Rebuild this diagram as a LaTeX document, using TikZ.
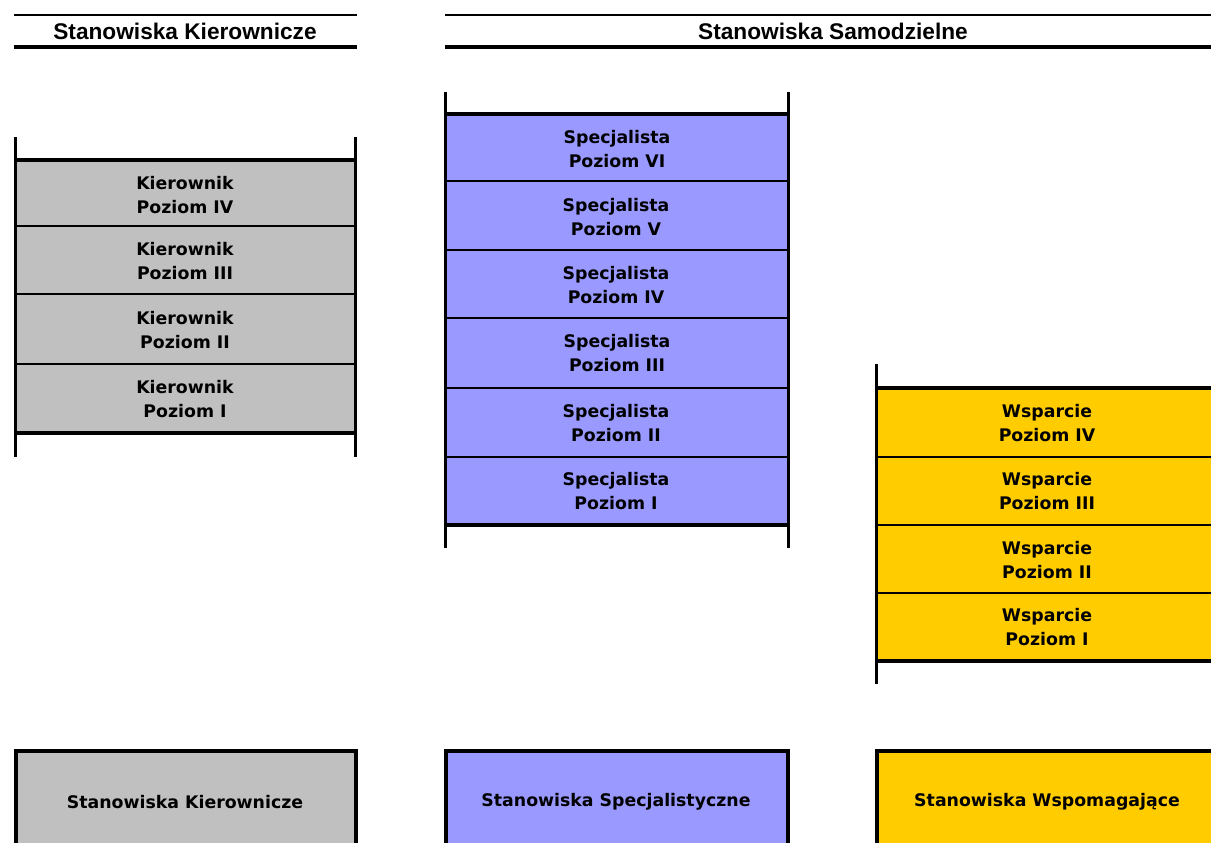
\documentclass[tikz,border=0pt]{standalone}
\usepackage{fontspec}
\setmainfont{DejaVu Sans}
\newfontfamily\headfont{Liberation Sans}
\definecolor{kiergray}{HTML}{C0C0C0}
\definecolor{specblue}{HTML}{9999FF}
\definecolor{wspyellow}{HTML}{FFCC00}

\begin{document}
\begin{tikzpicture}[x=0.75pt,y=-0.75pt,
  cell/.style={draw=black,line width=1.6pt},
  rim/.style={line width=3pt},
  post/.style={line width=2.2pt},
  lbl/.style={font=\fontsize{13}{18}\selectfont\bfseries,align=center,inner sep=0pt},
  head/.style={font=\headfont\fontsize{17}{20}\selectfont\bfseries,inner sep=0pt}]
  \clip (0,0) rectangle (1211,843);

  % headers
  \draw [line width=1.3pt] (14,15) -- (357,15);
  \draw [line width=2.7pt] (14,47) -- (357,47);
  \node [head] (hKier) at (185,31) {Stanowiska Kierownicze};
  \draw [line width=1.3pt] (445,15) -- (1211,15);
  \draw [line width=2.7pt] (445,47) -- (1211,47);
  \node [head] (hSam) at (833,31) {Stanowiska Samodzielne};

  % kierownik column
  \filldraw [cell, fill=kiergray] (15.5,160) rectangle (355.5,226);
  \filldraw [cell, fill=kiergray] (15.5,226) rectangle (355.5,294);
  \filldraw [cell, fill=kiergray] (15.5,294) rectangle (355.5,364);
  \filldraw [cell, fill=kiergray] (15.5,364) rectangle (355.5,433);
  \draw [rim] (15.5,160) -- (355.5,160);
  \draw [rim] (15.5,433) -- (355.5,433);
  \node [lbl] (k4) at (185,195) {Kierownik\\Poziom IV};
  \node [lbl] (k3) at (185,261) {Kierownik\\Poziom III};
  \node [lbl] (k2) at (185,330) {Kierownik\\Poziom II};
  \node [lbl] (k1) at (185,399) {Kierownik\\Poziom I};
  \coordinate (kLT) at (15.5,137);
  \coordinate (kLB) at (15.5,457);
  \coordinate (kRT) at (355.5,137);
  \coordinate (kRB) at (355.5,457);
  \draw [post] (kLT) -- (kLB);
  \draw [post] (kRT) -- (kRB);

  % specjalista column
  \filldraw [cell, fill=specblue] (445.5,114) rectangle (788.5,181);
  \filldraw [cell, fill=specblue] (445.5,181) rectangle (788.5,250);
  \filldraw [cell, fill=specblue] (445.5,250) rectangle (788.5,318);
  \filldraw [cell, fill=specblue] (445.5,318) rectangle (788.5,388);
  \filldraw [cell, fill=specblue] (445.5,388) rectangle (788.5,457);
  \filldraw [cell, fill=specblue] (445.5,457) rectangle (788.5,525);
  \draw [rim] (445.5,114) -- (788.5,114);
  \draw [rim] (445.5,525) -- (788.5,525);
  \node [lbl] (s6) at (617,149) {Specjalista\\Poziom VI};
  \node [lbl] (s5) at (616,217) {Specjalista\\Poziom V};
  \node [lbl] (s4) at (616,285) {Specjalista\\Poziom IV};
  \node [lbl] (s3) at (617,353) {Specjalista\\Poziom III};
  \node [lbl] (s2) at (616,423) {Specjalista\\Poziom II};
  \node [lbl] (s1) at (616,491) {Specjalista\\Poziom I};
  \coordinate (sLT) at (445.5,92);
  \coordinate (sLB) at (445.5,548);
  \coordinate (sRT) at (788.5,92);
  \coordinate (sRB) at (788.5,548);
  \draw [post] (sLT) -- (sLB);
  \draw [post] (sRT) -- (sRB);

  % wsparcie column
  \filldraw [cell, fill=wspyellow] (876.5,388) rectangle (1230,457);
  \filldraw [cell, fill=wspyellow] (876.5,457) rectangle (1230,525);
  \filldraw [cell, fill=wspyellow] (876.5,525) rectangle (1230,593);
  \filldraw [cell, fill=wspyellow] (876.5,593) rectangle (1230,661);
  \draw [rim] (876.5,388) -- (1230,388);
  \draw [rim] (876.5,661) -- (1230,661);
  \node [lbl] (w4) at (1047,423) {Wsparcie\\Poziom IV};
  \node [lbl] (w3) at (1047,491) {Wsparcie\\Poziom III};
  \node [lbl] (w2) at (1047,560) {Wsparcie\\Poziom II};
  \node [lbl] (w1) at (1047,627) {Wsparcie\\Poziom I};
  \coordinate (wLT) at (876.5,364);
  \coordinate (wLB) at (876.5,684);
  \draw [post] (wLT) -- (wLB);

  % legend boxes
  \filldraw [rim, fill=kiergray] (15.5,751) rectangle (356,880);
  \node [lbl] (legKier) at (185,802) {Stanowiska Kierownicze};
  \filldraw [rim, fill=specblue] (446,751) rectangle (788,880);
  \node [lbl] (legSpec) at (616,802) {Stanowiska Specjalistyczne};
  \filldraw [rim, fill=wspyellow] (877,751) rectangle (1230,880);
  \node [lbl] (legWsp) at (1047,802) {Stanowiska Wspomagające};
\end{tikzpicture}
\end{document}
